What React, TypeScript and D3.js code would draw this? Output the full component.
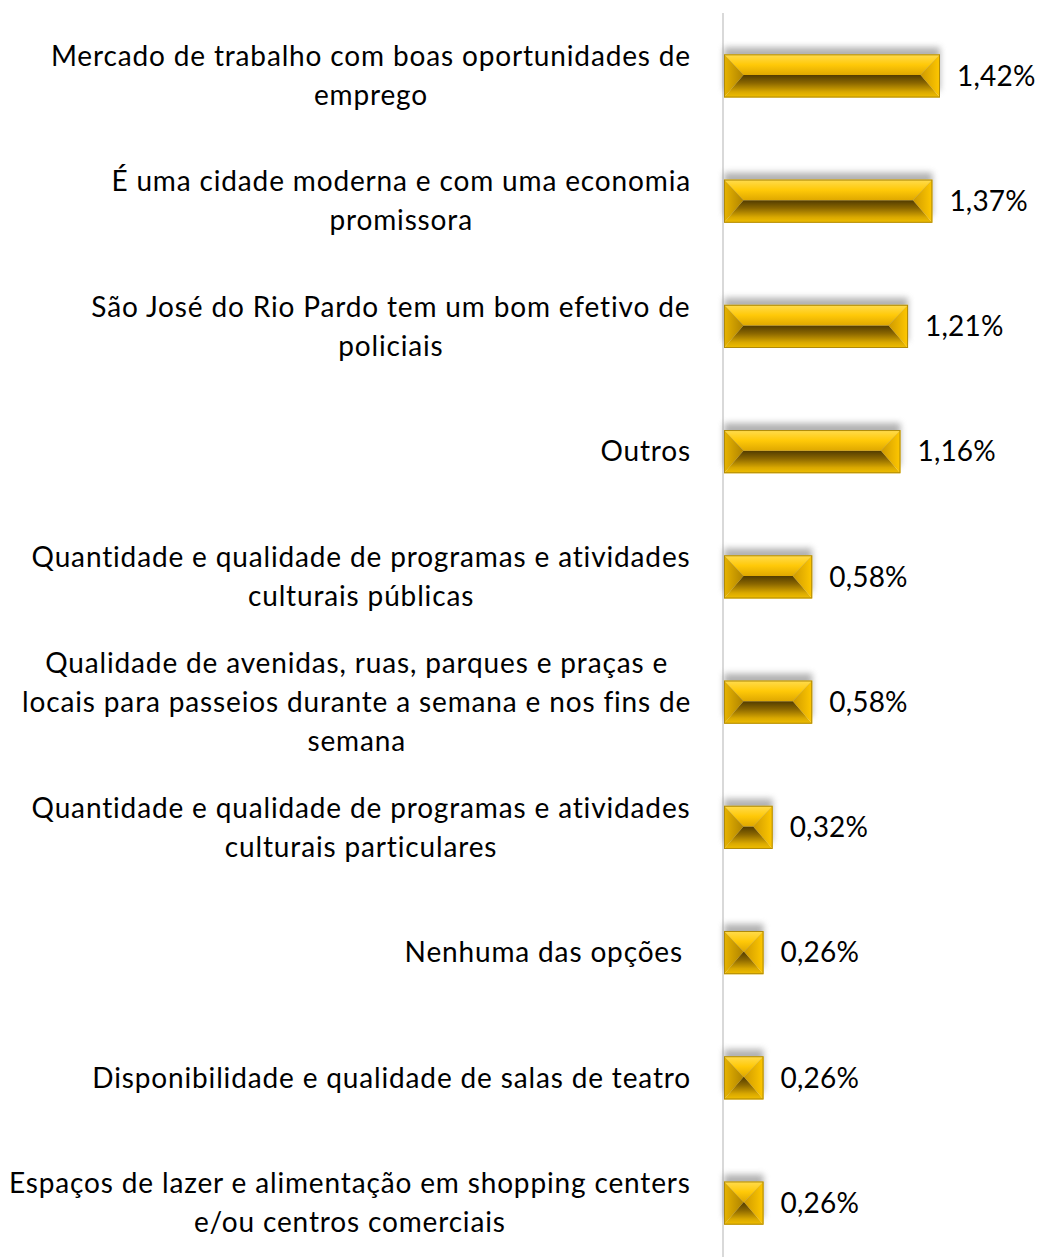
import React from "react";
import * as d3 from "d3";

const categories: string[] = [
  "Mercado de trabalho com boas oportunidades de\nemprego",
  "É uma cidade moderna e com uma economia\npromissora",
  "São José do Rio Pardo tem um bom efetivo de\npoliciais",
  "Outros",
  "Quantidade e qualidade de programas e atividades\nculturais públicas",
  "Qualidade de avenidas, ruas, parques e praças e\nlocais para passeios durante a semana e nos fins de\nsemana",
  "Quantidade e qualidade de programas e atividades\nculturais particulares",
  "Nenhuma das opções ",
  "Disponibilidade e qualidade de salas de teatro",
  "Espaços de lazer e alimentação em shopping centers\ne/ou centros comerciais",
];
const values: number[] = [1.42, 1.37, 1.21, 1.16, 0.58, 0.58, 0.32, 0.26, 0.26, 0.26];
const valueLabels: string[] = values.map((v) => v.toFixed(2).replace(".", ",") + "%");

const W = 1037;
const H = 1257;
const axisX = 723;
const FONT = "Lato, 'Open Sans', sans-serif";
const FS = 28;
const LS = 0.85;
const LH = 39;
const LABEL_RIGHT = 691;

let ctx: CanvasRenderingContext2D | null = null;
function measure(s: string): number {
  if (!ctx) {
    const c = document.createElement("canvas");
    ctx = c.getContext("2d");
  }
  if (!ctx) return s.length * FS * 0.5;
  ctx.font = `${FS}px Lato`;
  return ctx.measureText(s).width + LS * s.length;
}

export default function App() {
  const [, setTick] = React.useState(0);
  React.useEffect(() => {
    if ((document as any).fonts && (document as any).fonts.ready) {
      (document as any).fonts.load(`${FS}px Lato`).then(() => setTick((t) => t + 1));
    }
  }, []);

  const x = d3.scaleLinear().domain([0, 1.42]).range([axisX + 1, axisX + 1 + 216]);
  const y = d3
    .scaleBand<string>()
    .domain(categories.map((_, i) => String(i)))
    .range([13, 1266])
    .paddingInner(0.655)
    .paddingOuter(0.33);

  return (
    <svg width={W} height={H} style={{ display: "block", position: "absolute", left: 0, top: 0 }}>
      <defs>
        <filter id="shadow" x="-20%" y="-50%" width="140%" height="200%">
          <feGaussianBlur stdDeviation="3" />
        </filter>
        <linearGradient id="topFace" x1="0" y1="0" x2="0" y2="1">
          <stop offset="0" stopColor="#FFDC50" />
          <stop offset="0.5" stopColor="#FFC908" />
          <stop offset="1" stopColor="#DFA800" />
        </linearGradient>
        <linearGradient id="bottomFace" x1="0" y1="0" x2="0" y2="1">
          <stop offset="0" stopColor="#523C00" />
          <stop offset="0.35" stopColor="#8A6600" />
          <stop offset="0.75" stopColor="#D9A800" />
          <stop offset="1" stopColor="#F2C000" />
        </linearGradient>
        <linearGradient id="leftFace" x1="0" y1="0" x2="1" y2="0">
          <stop offset="0" stopColor="#E8B400" />
          <stop offset="1" stopColor="#B08400" />
        </linearGradient>
        <linearGradient id="rightFace" x1="0" y1="0" x2="1" y2="0">
          <stop offset="0" stopColor="#CF9A00" />
          <stop offset="1" stopColor="#FFC800" />
        </linearGradient>
      </defs>
      <rect x={0} y={0} width={W} height={H} fill="#ffffff" />
      <line x1={axisX} x2={axisX} y1={13} y2={H} stroke="#D9D9D9" strokeWidth={2} />
      {categories.map((c, i) => {
        const band = y(String(i))!;
        const bw = y.bandwidth();
        const cy = band + bw / 2;
        const x0 = x(0);
        const x1 = x(values[i]);
        const y0 = band;
        const y1 = band + bw;
        const w = x1 - x0;
        const h = y1 - y0;
        const b = Math.min(h * 0.45, w / 2);
        const yr = y0 + h * 0.48;
        const lines = c.split("\n");
        const blockW = Math.max(...lines.map((ln) => measure(ln)));
        const cx = LABEL_RIGHT - blockW / 2;
        const top = `M${x0},${y0}L${x1},${y0}L${x1 - b},${yr}L${x0 + b},${yr}Z`;
        const left = `M${x0},${y0}L${x0 + b},${yr}L${x0},${y1}Z`;
        const right = `M${x1},${y0}L${x1},${y1}L${x1 - b},${yr}Z`;
        const bottom = `M${x0},${y1}L${x0 + b},${yr}L${x1 - b},${yr}L${x1},${y1}Z`;
        return (
          <g key={i}>
            <rect x={x0} y={y0 - 7} width={w} height={h} fill="#7f7f7f" opacity={0.6} filter="url(#shadow)" />
            <path d={bottom} fill="url(#bottomFace)" />
            <path d={top} fill="url(#topFace)" />
            <path d={left} fill="url(#leftFace)" />
            <path d={right} fill="url(#rightFace)" />
            <rect x={x0 + 0.5} y={y0 + 0.5} width={w - 1} height={h - 1} fill="none" stroke="#B08A08" strokeWidth={1} />
            <text
              x={x1 + 17}
              y={cy}
              dy="0.35em"
              fontFamily={FONT}
              fontSize={FS}
              letterSpacing={0.2}
              fill="#000"
            >
              {valueLabels[i]}
            </text>
            <text
              fontFamily={FONT}
              fontSize={FS}
              letterSpacing={LS}
              fill="#000"
              textAnchor="middle"
              style={{ whiteSpace: "pre" }}
            >
              {lines.map((ln, k) => (
                <tspan key={k} x={cx} y={cy + (k - (lines.length - 1) / 2) * LH} dy="0.35em">
                  {ln}
                </tspan>
              ))}
            </text>
          </g>
        );
      })}
    </svg>
  );
}
